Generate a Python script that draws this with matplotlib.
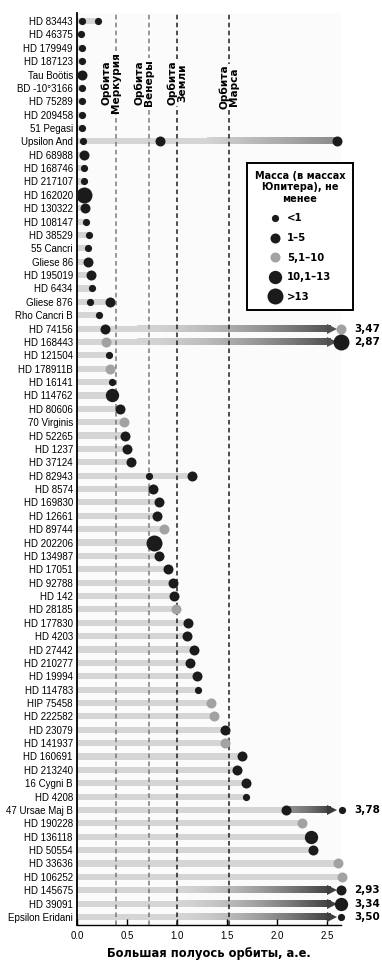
import numpy as np
import matplotlib
matplotlib.use("Agg")
import matplotlib.pyplot as plt
from matplotlib.colors import LinearSegmentedColormap
from matplotlib.lines import Line2D

# star names, top to bottom
names = ["HD 83443", "HD 46375", "HD 179949", "HD 187123", "Tau Boötis", "BD -10°3166",
         "HD 75289", "HD 209458", "51 Pegasi", "Upsilon And", "HD 68988", "HD 168746",
         "HD 217107", "HD 162020", "HD 130322", "HD 108147", "HD 38529", "55 Cancri",
         "Gliese 86", "HD 195019", "HD 6434", "Gliese 876", "Rho Cancri B", "HD 74156",
         "HD 168443", "HD 121504", "HD 178911B", "HD 16141", "HD 114762", "HD 80606",
         "70 Virginis", "HD 52265", "HD 1237", "HD 37124", "HD 82943", "HD 8574",
         "HD 169830", "HD 12661", "HD 89744", "HD 202206", "HD 134987", "HD 17051",
         "HD 92788", "HD 142", "HD 28185", "HD 177830", "HD 4203", "HD 27442",
         "HD 210277", "HD 19994", "HD 114783", "HIP 75458", "HD 222582", "HD 23079",
         "HD 141937", "HD 160691", "HD 213240", "16 Cygni B", "HD 4208", "47 Ursae Maj B",
         "HD 190228", "HD 136118", "HD 50554", "HD 33636", "HD 106252", "HD 145675",
         "HD 39091", "Epsilon Eridani"]

# semi-major axes (a.u.) of the planets of each star
a_vals = [(0.05, 0.21), (0.04,), (0.045,), (0.045,), (0.05,), (0.05,),
          (0.05,), (0.05,), (0.05,), (0.06, 0.83, 2.60), (0.07,), (0.07,),
          (0.07,), (0.07,), (0.08,), (0.09,), (0.12,), (0.11,),
          (0.11,), (0.14,), (0.15,), (0.13, 0.33), (0.22,), (0.28, 2.64),
          (0.29, 2.64), (0.32,), (0.33,), (0.35,), (0.35,), (0.43,),
          (0.47,), (0.48,), (0.50,), (0.54,), (0.72, 1.15), (0.76,),
          (0.82,), (0.80,), (0.87,), (0.77,), (0.82,), (0.91,),
          (0.96,), (0.97,), (0.99,), (1.11,), (1.10,), (1.17,),
          (1.13,), (1.20,), (1.21,), (1.34,), (1.37,), (1.48,),
          (1.48,), (1.65,), (1.60,), (1.69,), (1.69,), (2.09, 2.65),
          (2.25,), (2.34,), (2.36,), (2.61,), (2.65,), (2.64,),
          (2.64,), (2.64,)]

# mass class of each planet: 0 <1, 1 1-5, 2 5.1-10, 3 10.1-13, 4 >13
mass_cls = [(0, 0), (0,), (0,), (0,), (1,), (0,),
            (0,), (0,), (0,), (0, 1, 1), (1,), (0,),
            (0,), (4,), (1,), (0,), (0,), (0,),
            (1,), (1,), (0,), (0, 1), (0,), (1, 2),
            (2, 4), (0,), (2,), (0,), (3,), (1,),
            (2,), (1,), (1,), (1,), (0, 1), (1,),
            (1,), (1,), (2,), (4,), (1,), (1,),
            (1,), (1,), (2,), (1,), (1,), (1,),
            (1,), (1,), (0,), (2,), (2,), (1,),
            (2,), (1,), (1,), (1,), (0,), (1, 0),
            (2,), (3,), (1,), (2,), (2,), (1,),
            (3,), (0,)]

# planets beyond the scale: drawn at the edge with the true value written
off_scale = {"HD 74156": "3,47", "HD 168443": "2,87", "47 Ursae Maj B": "3,78",
             "HD 145675": "2,93", "HD 39091": "3,34", "Epsilon Eridani": "3,50"}

orbits = [0.39, 0.72, 1.00, 1.52]
orbit_names = ["Орбита\nМеркурия", "Орбита\nВенеры", "Орбита\nЗемли", "Орбита\nМарса"]

legend_labels = ["<1", "1–5", "5,1–10", "10,1–13", ">13"]
cls_size = [5.2, 7.2, 7.2, 9.6, 11.5]
cls_color = ["#1b1b1b", "#1b1b1b", "#a2a2a2", "#1b1b1b", "#1b1b1b"]

plain = ["Liberation Sans", "DejaVu Sans"]
bar_c = "#d5d5d5"
bg = "#fbfbfb"

fig = plt.figure(figsize=(3.82, 9.71), dpi=100)
fig.patch.set_facecolor("white")
ax = fig.add_axes([0.2016, 0.0474, 0.6912, 0.9392])
ax.set_facecolor(bg)

h = 0.46
arrow_end = 2.53
for i, (name, av, mc) in enumerate(zip(names, a_vals, mass_cls)):
    if name in off_scale:
        if name == "47 Ursae Maj B":
            g0, c0, c1 = av[0], "#8e8e8e", "#3a3a3a"
        elif name in ("HD 74156", "HD 168443"):
            g0, c0, c1 = 0.6, bar_c, "#505050"
        else:
            g0, c0, c1 = 1.0, bar_c, "#3e3e3e"
        ax.barh(i, g0, height=h, color=bar_c, zorder=1)
        cm = LinearSegmentedColormap.from_list("g", [c0, c1])
        ax.imshow(np.linspace(0, 1, 256)[None, :] ** 1.6, cmap=cm, aspect="auto",
                  extent=[g0, arrow_end, i + h / 2, i - h / 2], zorder=1,
                  interpolation="bilinear", vmin=0, vmax=1)
        ax.plot(arrow_end + 0.02, i, marker=">", ms=7.5, color=c1, mew=0, zorder=2)
        ax.text(2.77, i, off_scale[name], fontsize=7.5, fontweight="bold",
                va="center", ha="left", clip_on=False)
    elif name == "Upsilon And":
        ax.barh(i, 1.3, height=h, color=bar_c, zorder=1)
        cm = LinearSegmentedColormap.from_list("g", [bar_c, "#8a8a8a"])
        ax.imshow(np.linspace(0, 1, 256)[None, :], cmap=cm, aspect="auto",
                  extent=[1.3, max(av), i + h / 2, i - h / 2], zorder=1,
                  interpolation="bilinear")
    else:
        ax.barh(i, max(av), height=h, color=bar_c, zorder=1)
    for a, c in zip(av, mc):
        ax.plot(a, i, "o", ms=cls_size[c], color=cls_color[c], mew=0,
                zorder=4, clip_on=False)

# planet orbits of the Solar system
for k, (xo, lab) in enumerate(zip(orbits, orbit_names)):
    col = "#7a7a7a" if k < 2 else "#1e1e1e"
    ax.axvline(xo, color=col, lw=1.1, dashes=(3, 2.2), zorder=2)
    dx = -0.05 if k < 2 else 0.0
    yc = 4.6 if k < 3 else 4.9
    ax.text(xo + dx, yc, lab, rotation=90, ha="center", va="center",
            fontsize=7.6, fontweight="bold", linespacing=0.95, zorder=3,
            bbox=dict(facecolor=bg, edgecolor="none", pad=0.5))

ax.set_xlim(0, 2.64)
ax.set_ylim(len(names) - 0.4, -0.6)
ax.set_yticks(range(len(names)))
ax.set_yticklabels(names, family=plain, fontsize=7.0)
ax.tick_params(axis="y", length=0, pad=3)
ax.set_xticks([0, 0.5, 1.0, 1.5, 2.0, 2.5])
ax.set_xticklabels(["0.0", "0.5", "1.0", "1.5", "2.0", "2.5"], family=plain, fontsize=7)
ax.tick_params(axis="x", direction="in", length=4, width=1, pad=4)
ax.spines["top"].set_visible(False)
ax.spines["right"].set_visible(False)
ax.spines["left"].set_linewidth(1.3)
ax.spines["bottom"].set_linewidth(1.0)
ax.set_xlabel("Большая полуось орбиты, а.е.", fontsize=8.3, fontweight="bold", labelpad=5)

handles = [Line2D([], [], ls="", marker="o", ms=cls_size[c], color=cls_color[c], mew=0)
           for c in range(5)]
leg = ax.legend(handles, legend_labels, title="Масса (в массах\nЮпитера), не\nменее",
                loc="upper left", bbox_to_anchor=(0.644, 0.8355), borderaxespad=0,
                frameon=True, fancybox=False, framealpha=1, edgecolor="black",
                prop=dict(size=7.3, weight="bold"), handletextpad=0.5,
                handlelength=1.3, labelspacing=0.95, borderpad=0.75)
leg.get_title().set_fontweight("bold")
leg.get_title().set_fontsize(7)
leg.get_title().set_multialignment("center")
leg.get_frame().set_linewidth(1.4)
leg.set_zorder(6)

fig.savefig("out.png", dpi=100, facecolor="white")
